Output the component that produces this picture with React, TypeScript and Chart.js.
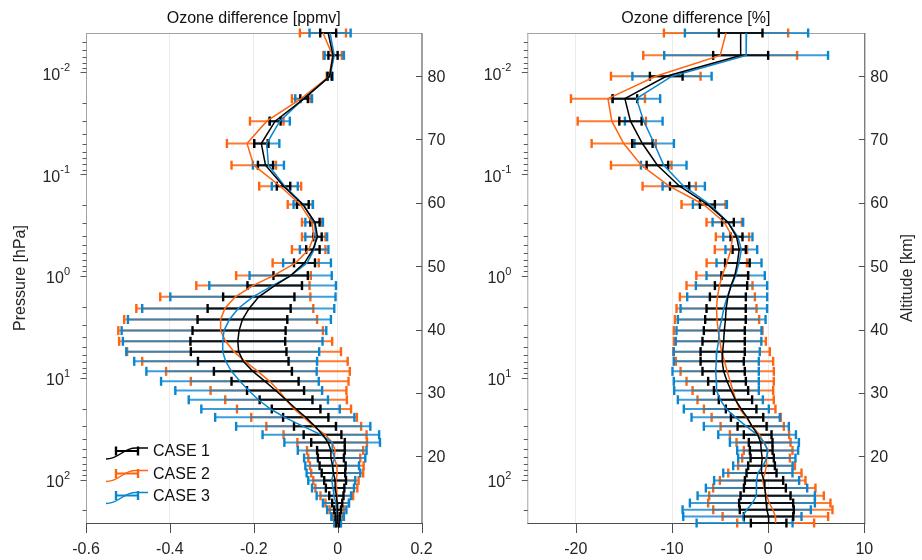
import { useEffect, useRef } from 'react';
import { Chart, registerables } from 'chart.js';

Chart.register(...registerables);

// Pressure levels of the retrieval grid [hPa], top of atmosphere first
const pressureLevels = [
  0.0041, 0.0068, 0.0109, 0.0181, 0.0301, 0.0499, 0.0815, 0.131, 0.198, 0.296,
  0.412, 0.549, 0.742, 0.989, 1.24, 1.6, 2.08, 2.67, 3.43, 4.37,
  5.52, 6.87, 8.62, 10.8, 13.3, 16.4, 20.2, 24.4, 29.9, 36.1,
  43.0, 51.5, 61.2, 72.9, 85.9, 101.6, 120.7, 143.6, 169.4, 197.2,
  229.5, 266.0,
];

const caseNames = ['CASE 1', 'CASE 2', 'CASE 3'];

// Axis ticks
const pressureDecades = [0.01, 0.1, 1, 10, 100];
const pressureExponents = ['-2', '-1', '0', '1', '2'];
const altitudeTicks = [20, 30, 40, 50, 60, 70, 80];
const ppmvTicks = [-0.6, -0.4, -0.2, 0, 0.2];
const ppmvTickLabels = ['-0.6', '-0.4', '-0.2', '0', '0.2'];
const percentTicks = [-20, -10, 0, 10];
const percentTickLabels = ['-20', '-10', '0', '10'];

// Absolute ozone difference [ppmv]: mean and 1-sigma spread
const ppmvCase1 = [
  -0.0225, -0.011, -0.019, -0.08, -0.149, -0.182, -0.172, -0.129, -0.083, -0.054,
  -0.048, -0.059, -0.079, -0.112, -0.15, -0.188, -0.211, -0.227, -0.235, -0.238,
  -0.236, -0.225, -0.202, -0.173, -0.148, -0.123, -0.099, -0.076, -0.054, -0.036,
  -0.023, -0.016, -0.016, -0.012, -0.01, -0.006, -0.006, -0.003, -0.001, 0.0,
  0.0, 0.0,
];
const ppmvCase1Err = [
  0.019, 0.011, 0.005, 0.009, 0.013, 0.017, 0.018, 0.016, 0.014, 0.011,
  0.01, 0.016, 0.025, 0.041, 0.065, 0.085, 0.099, 0.107, 0.111, 0.113,
  0.114, 0.108, 0.093, 0.08, 0.068, 0.063, 0.058, 0.054, 0.05, 0.045,
  0.04, 0.033, 0.031, 0.031, 0.028, 0.026, 0.022, 0.017, 0.012, 0.008,
  0.005, 0.003,
];
const ppmvCase2 = [
  -0.035, -0.012, -0.02, -0.087, -0.169, -0.216, -0.2, -0.137, -0.089, -0.061,
  -0.057, -0.069, -0.1, -0.153, -0.202, -0.244, -0.269, -0.279, -0.279, -0.267,
  -0.247, -0.221, -0.19, -0.162, -0.141, -0.123, -0.104, -0.08, -0.057, -0.03,
  -0.013, -0.006, -0.008, -0.002, -0.001, -0.004, -0.003, -0.002, -0.001, -0.002,
  0.0, 0.0,
];
const ppmvCase2Err = [
  0.055, 0.022, 0.006, 0.022, 0.04, 0.048, 0.053, 0.05, 0.03, 0.024,
  0.028, 0.04, 0.055, 0.089, 0.135, 0.179, 0.211, 0.23, 0.244, 0.254,
  0.255, 0.245, 0.219, 0.188, 0.162, 0.145, 0.136, 0.126, 0.113, 0.099,
  0.083, 0.067, 0.062, 0.064, 0.062, 0.054, 0.05, 0.039, 0.028, 0.017,
  0.012, 0.006,
];
const ppmvCase3 = [
  -0.018, -0.008, -0.018, -0.081, -0.138, -0.169, -0.165, -0.126, -0.082, -0.056,
  -0.051, -0.056, -0.073, -0.112, -0.155, -0.202, -0.237, -0.258, -0.271, -0.274,
  -0.274, -0.267, -0.253, -0.233, -0.212, -0.189, -0.16, -0.126, -0.082, -0.04,
  -0.013, -0.013, -0.007, -0.013, -0.01, -0.014, -0.011, -0.009, -0.004, -0.002,
  0.0, 0.0,
];
const ppmvCase3Err = [
  0.049, 0.023, 0.006, 0.02, 0.024, 0.03, 0.037, 0.031, 0.023, 0.021,
  0.026, 0.034, 0.057, 0.098, 0.151, 0.197, 0.229, 0.242, 0.244, 0.238,
  0.23, 0.218, 0.203, 0.188, 0.175, 0.166, 0.165, 0.166, 0.16, 0.139,
  0.114, 0.082, 0.073, 0.064, 0.064, 0.056, 0.05, 0.041, 0.031, 0.023,
  0.015, 0.008,
];

// Relative ozone difference [%]: mean and 1-sigma spread
const pctCase1 = [
  -2.86, -2.86, -10.6, -14.9, -14.32, -13.08, -11.52, -9.21, -6.32, -4.18,
  -3.29, -3.01, -3.2, -3.47, -3.86, -4.19, -4.37, -4.44, -4.56, -4.63,
  -4.73, -4.78, -4.63, -4.28, -3.86, -3.4, -2.81, -2.19, -1.67, -1.09,
  -0.78, -0.72, -0.62, -0.69, -0.69, -0.43, -0.34, -0.27, -0.21, -0.14,
  0.04, 0.05,
];
const pctCase1Err = [
  2.27, 2.86, 1.7, 1.28, 1.16, 1.06, 1.12, 1.0, 0.78, 0.61,
  0.62, 0.69, 1.28, 1.39, 1.68, 1.87, 2.04, 2.11, 2.13, 2.2,
  2.3, 2.25, 2.2, 1.96, 1.78, 1.73, 1.59, 1.68, 1.51, 1.44,
  1.23, 1.18, 1.21, 1.39, 1.56, 1.99, 2.18, 2.6, 2.81, 2.81,
  2.57, 1.85,
];
const pctCase2 = [
  -4.38, -4.99, -11.69, -16.66, -16.26, -15.02, -13.2, -10.29, -6.72, -4.57,
  -3.71, -3.87, -4.3, -4.78, -5.06, -5.28, -5.37, -5.32, -5.2, -5.02,
  -4.85, -4.54, -4.26, -3.95, -3.67, -3.38, -2.96, -2.28, -1.66, -0.9,
  -0.48, 0.0, -0.22, -0.17, -0.34, -0.57, -0.4, -0.17, 0.12, 0.49,
  0.75, 0.78,
];
const pctCase2Err = [
  6.46, 8.0, 4.66, 3.85, 3.55, 3.34, 3.15, 2.77, 2.29, 1.84,
  1.73, 1.68, 2.1, 2.69, 3.43, 3.9, 4.16, 4.38, 4.61, 4.78,
  5.02, 5.06, 4.85, 4.54, 4.19, 3.97, 3.72, 3.6, 3.29, 3.08,
  2.81, 2.53, 2.48, 2.95, 3.81, 4.45, 5.32, 5.96, 6.36, 6.2,
  5.49, 4.0,
];
const pctCase3 = [
  -2.25, -2.29, -10.0, -13.7, -12.94, -11.85, -10.86, -8.78, -6.06, -4.19,
  -3.15, -2.79, -3.03, -3.38, -3.81, -4.26, -4.61, -4.83, -5.11, -5.16,
  -5.34, -5.39, -5.46, -5.39, -5.37, -4.97, -4.35, -3.38, -2.27, -1.15,
  -0.39, -0.05, -0.14, -0.55, -1.07, -1.2, -1.21, -1.24, -1.64, -2.23,
  -2.68, -2.45,
];
const pctCase3Err = [
  6.41, 8.52, 4.12, 2.47, 1.96, 2.05, 2.37, 2.2, 1.77, 1.59,
  1.52, 1.65, 2.34, 3.03, 3.71, 4.16, 4.5, 4.56, 4.42, 4.45,
  4.47, 4.42, 4.49, 4.42, 4.4, 4.42, 4.42, 4.59, 4.42, 4.04,
  3.59, 3.17, 2.98, 3.09, 3.6, 4.42, 5.27, 6.1, 6.5, 6.67,
  6.15, 4.99,
];

// Axis limits
const PRESSURE_TOP = 0.0041;
const PRESSURE_BOTTOM = 266;
const ALTITUDE_TOP = 86.8;
const ALTITUDE_BOTTOM = 9.5;

const caseColors = ['#000000', '#ff6411', '#0a86d0'];
const barColors = ['rgba(0,0,0,0.85)', 'rgba(255,100,17,0.85)', 'rgba(10,134,208,0.8)'];

const FONT = '"Liberation Sans", Arial, Helvetica, sans-serif';
const TEXT = '#262626';

type Pt = { x: number | null; y: number };

function errorBarPoints(center: number[], err: number[]): Pt[] {
  const pts: Pt[] = [];
  center.forEach((c, i) => {
    pts.push({ x: c - err[i], y: pressureLevels[i] });
    pts.push({ x: c + err[i], y: pressureLevels[i] });
    pts.push({ x: null, y: pressureLevels[i] });
  });
  return pts;
}

function profilePoints(center: number[]): Pt[] {
  return center.map((c, i) => ({ x: c, y: pressureLevels[i] }));
}

function buildDatasets(centers: number[][], errs: number[][]) {
  const sets: any[] = [];
  // error bars: orange first, blue over it, black on top
  const barOrder = [1, 2, 0];
  barOrder.forEach((k, j) => {
    sets.push({
      label: caseNames[k] + ' spread',
      data: errorBarPoints(centers[k], errs[k]),
      borderColor: barColors[k],
      borderWidth: 2,
      pointStyle: 'line',
      pointRotation: 90,
      pointRadius: 4.5,
      pointHoverRadius: 4.5,
      pointBorderWidth: 2.4,
      pointBorderColor: caseColors[k],
      pointBackgroundColor: caseColors[k],
      spanGaps: false,
      tension: 0,
      fill: false,
      clip: false,
      order: 10 - j,
    });
  });
  barOrder.forEach((k, j) => {
    sets.push({
      label: caseNames[k],
      data: profilePoints(centers[k]),
      borderColor: caseColors[k],
      borderWidth: 1.5,
      pointRadius: 0,
      pointHoverRadius: 0,
      tension: 0,
      fill: false,
      clip: false,
      order: 5 - j,
    });
  });
  return sets;
}

type PanelSpec = {
  title: string;
  leftTitle?: string;
  rightTitle?: string;
  xMin: number;
  xMax: number;
  xTicks: number[];
  xTickLabels: string[];
  leftWidth: number;
  rightWidth: number;
  legend: boolean;
};

function decorPlugin(spec: PanelSpec) {
  return {
    id: 'panelDecor',
    beforeDatasetsDraw(chart: any) {
      const { ctx, chartArea: a, scales } = chart;
      ctx.save();
      // light top and left edges
      ctx.lineWidth = 1;
      ctx.strokeStyle = '#a3a3a3';
      ctx.beginPath();
      ctx.moveTo(a.left, a.top + 0.5);
      ctx.lineTo(a.right, a.top + 0.5);
      ctx.moveTo(a.left + 0.5, a.top);
      ctx.lineTo(a.left + 0.5, a.bottom);
      ctx.stroke();
      // dark bottom and right edges
      ctx.strokeStyle = '#4d4d4d';
      ctx.beginPath();
      ctx.moveTo(a.left, a.bottom + 0.5);
      ctx.lineTo(a.right + 1, a.bottom + 0.5);
      ctx.moveTo(a.right + 0.5, a.top);
      ctx.lineTo(a.right + 0.5, a.bottom);
      ctx.stroke();

      // pressure ticks: decades longer, minor ticks shorter, pointing outward
      const y = scales.y;
      ctx.strokeStyle = '#595959';
      ctx.beginPath();
      for (let e = -3; e <= 2; e++) {
        const d = Math.pow(10, e);
        for (let k = 1; k <= 9; k++) {
          const v = k * d;
          if (v < PRESSURE_TOP || v > PRESSURE_BOTTOM) continue;
          const py = Math.round(y.getPixelForValue(v)) + 0.5;
          const len = k === 1 ? 6 : 4;
          ctx.moveTo(a.left + 0.5, py);
          ctx.lineTo(a.left + 0.5 - len, py);
        }
      }
      ctx.stroke();

      // altitude ticks, pointing inward
      const alt = scales.alt;
      ctx.strokeStyle = '#4d4d4d';
      ctx.beginPath();
      altitudeTicks.forEach((v) => {
        const py = Math.round(alt.getPixelForValue(v)) + 0.5;
        ctx.moveTo(a.right + 0.5, py);
        ctx.lineTo(a.right + 0.5 - 6, py);
      });
      ctx.stroke();

      // x ticks, pointing downward
      const x = scales.x;
      ctx.beginPath();
      spec.xTicks.forEach((v) => {
        const px = Math.round(x.getPixelForValue(v)) + 0.5;
        ctx.moveTo(px, a.bottom);
        ctx.lineTo(px, a.bottom + 10);
      });
      ctx.stroke();
      ctx.restore();
    },
    afterDraw(chart: any) {
      const { ctx, chartArea: a, scales } = chart;
      ctx.save();
      ctx.fillStyle = TEXT;
      ctx.textBaseline = 'middle';

      // x tick labels
      ctx.font = `16px ${FONT}`;
      ctx.textAlign = 'center';
      spec.xTicks.forEach((v, i) => {
        ctx.fillText(spec.xTickLabels[i], scales.x.getPixelForValue(v), a.bottom + 27);
      });

      // pressure labels as powers of ten
      pressureDecades.forEach((v, i) => {
        const py = scales.y.getPixelForValue(v);
        const right = a.left - 16;
        ctx.font = `11px ${FONT}`;
        ctx.textAlign = 'right';
        const expW = ctx.measureText(pressureExponents[i]).width;
        ctx.fillText(pressureExponents[i], right, py - 4);
        ctx.font = `16px ${FONT}`;
        ctx.fillText('10', right - expW, py + 3);
      });

      // altitude labels
      ctx.font = `16px ${FONT}`;
      ctx.textAlign = 'left';
      altitudeTicks.forEach((v) => {
        ctx.fillText(String(v), a.right + 6, scales.alt.getPixelForValue(v) + 1);
      });

      // panel title
      ctx.fillStyle = '#111111';
      ctx.textAlign = 'center';
      ctx.fillText(spec.title, (a.left + a.right) / 2, 19);

      // rotated axis titles
      ctx.fillStyle = TEXT;
      const midY = (a.top + a.bottom) / 2;
      if (spec.leftTitle) {
        ctx.save();
        ctx.translate(21, midY);
        ctx.rotate(-Math.PI / 2);
        ctx.fillText(spec.leftTitle, 0, 0);
        ctx.restore();
      }
      if (spec.rightTitle) {
        ctx.save();
        ctx.translate(a.right + 43, midY);
        ctx.rotate(-Math.PI / 2);
        ctx.fillText(spec.rightTitle, 0, 0);
        ctx.restore();
      }

      // legend with error-bar and profile symbols
      if (spec.legend) {
        const rows = [451, 473.5, 495.5];
        caseNames.forEach((name, k) => {
          const cy = rows[k];
          const x0 = a.left + 20;
          ctx.strokeStyle = caseColors[k];
          ctx.lineWidth = 1.5;
          ctx.beginPath();
          ctx.moveTo(x0, cy + 8);
          ctx.bezierCurveTo(x0 + 14, cy + 8, x0 + 16, cy - 3, x0 + 30, cy - 3);
          ctx.lineTo(x0 + 42, cy - 3);
          ctx.stroke();
          ctx.lineWidth = 2;
          ctx.beginPath();
          ctx.moveTo(x0 + 10, cy);
          ctx.lineTo(x0 + 32, cy);
          ctx.stroke();
          ctx.lineWidth = 2.4;
          ctx.beginPath();
          ctx.moveTo(x0 + 10, cy - 4.5);
          ctx.lineTo(x0 + 10, cy + 4.5);
          ctx.moveTo(x0 + 32, cy - 4.5);
          ctx.lineTo(x0 + 32, cy + 4.5);
          ctx.stroke();
          ctx.fillStyle = '#111111';
          ctx.font = `16px ${FONT}`;
          ctx.textAlign = 'left';
          ctx.fillText(name, x0 + 47, cy + 1);
        });
      }
      ctx.restore();
    },
  };
}

function makeChart(canvas: HTMLCanvasElement, spec: PanelSpec, centers: number[][], errs: number[][]) {
  return new Chart(canvas, {
    type: 'line',
    data: { datasets: buildDatasets(centers, errs) },
    options: {
      animation: false,
      responsive: false,
      devicePixelRatio: 1,
      events: [],
      layout: { padding: { top: 33, left: 0, right: 0, bottom: 0 } },
      plugins: {
        legend: { display: false },
        tooltip: { enabled: false },
        title: { display: false },
      },
      scales: {
        x: {
          type: 'linear',
          min: spec.xMin,
          max: spec.xMax,
          afterBuildTicks: (s: any) => {
            s.ticks = spec.xTicks.map((value) => ({ value }));
          },
          afterFit: (s: any) => {
            s.height = 37;
          },
          grid: { color: '#ebebeb', lineWidth: 1, drawTicks: false },
          border: { display: false },
          ticks: { display: false },
        },
        y: {
          type: 'logarithmic',
          position: 'left',
          reverse: true,
          min: PRESSURE_TOP,
          max: PRESSURE_BOTTOM,
          afterFit: (s: any) => {
            s.width = spec.leftWidth;
          },
          grid: { display: false, drawTicks: false },
          border: { display: false },
          ticks: { display: false },
        },
        alt: {
          type: 'linear',
          position: 'right',
          min: ALTITUDE_BOTTOM,
          max: ALTITUDE_TOP,
          afterFit: (s: any) => {
            s.width = spec.rightWidth;
          },
          grid: { display: false, drawTicks: false },
          border: { display: false },
          ticks: { display: false },
        },
      },
    } as any,
    plugins: [decorPlugin(spec)],
  });
}

export default function App() {
  const leftRef = useRef<HTMLCanvasElement | null>(null);
  const rightRef = useRef<HTMLCanvasElement | null>(null);

  useEffect(() => {
    if (!leftRef.current || !rightRef.current) return;
    const left = makeChart(
      leftRef.current,
      {
        title: 'Ozone difference [ppmv]',
        leftTitle: 'Pressure [hPa]',
        xMin: -0.6,
        xMax: 0.2,
        xTicks: ppmvTicks,
        xTickLabels: ppmvTickLabels,
        leftWidth: 86,
        rightWidth: 38.5,
        legend: true,
      },
      [ppmvCase1, ppmvCase2, ppmvCase3],
      [ppmvCase1Err, ppmvCase2Err, ppmvCase3Err],
    );
    const right = makeChart(
      rightRef.current,
      {
        title: 'Ozone difference [%]',
        rightTitle: 'Altitude [km]',
        xMin: -25.05,
        xMax: 10,
        xTicks: percentTicks,
        xTickLabels: percentTickLabels,
        leftWidth: 67.3,
        rightWidth: 57.7,
        legend: false,
      },
      [pctCase1, pctCase2, pctCase3],
      [pctCase1Err, pctCase2Err, pctCase3Err],
    );
    return () => {
      left.destroy();
      right.destroy();
    };
  }, []);

  return (
    <div style={{ position: 'fixed', left: 0, top: 0, width: 922, height: 560, background: '#ffffff' }}>
      <canvas
        ref={leftRef}
        width={460}
        height={560}
        style={{ position: 'absolute', left: 0, top: 0, width: 460, height: 560 }}
      />
      <canvas
        ref={rightRef}
        width={462}
        height={560}
        style={{ position: 'absolute', left: 460, top: 0, width: 462, height: 560 }}
      />
    </div>
  );
}
